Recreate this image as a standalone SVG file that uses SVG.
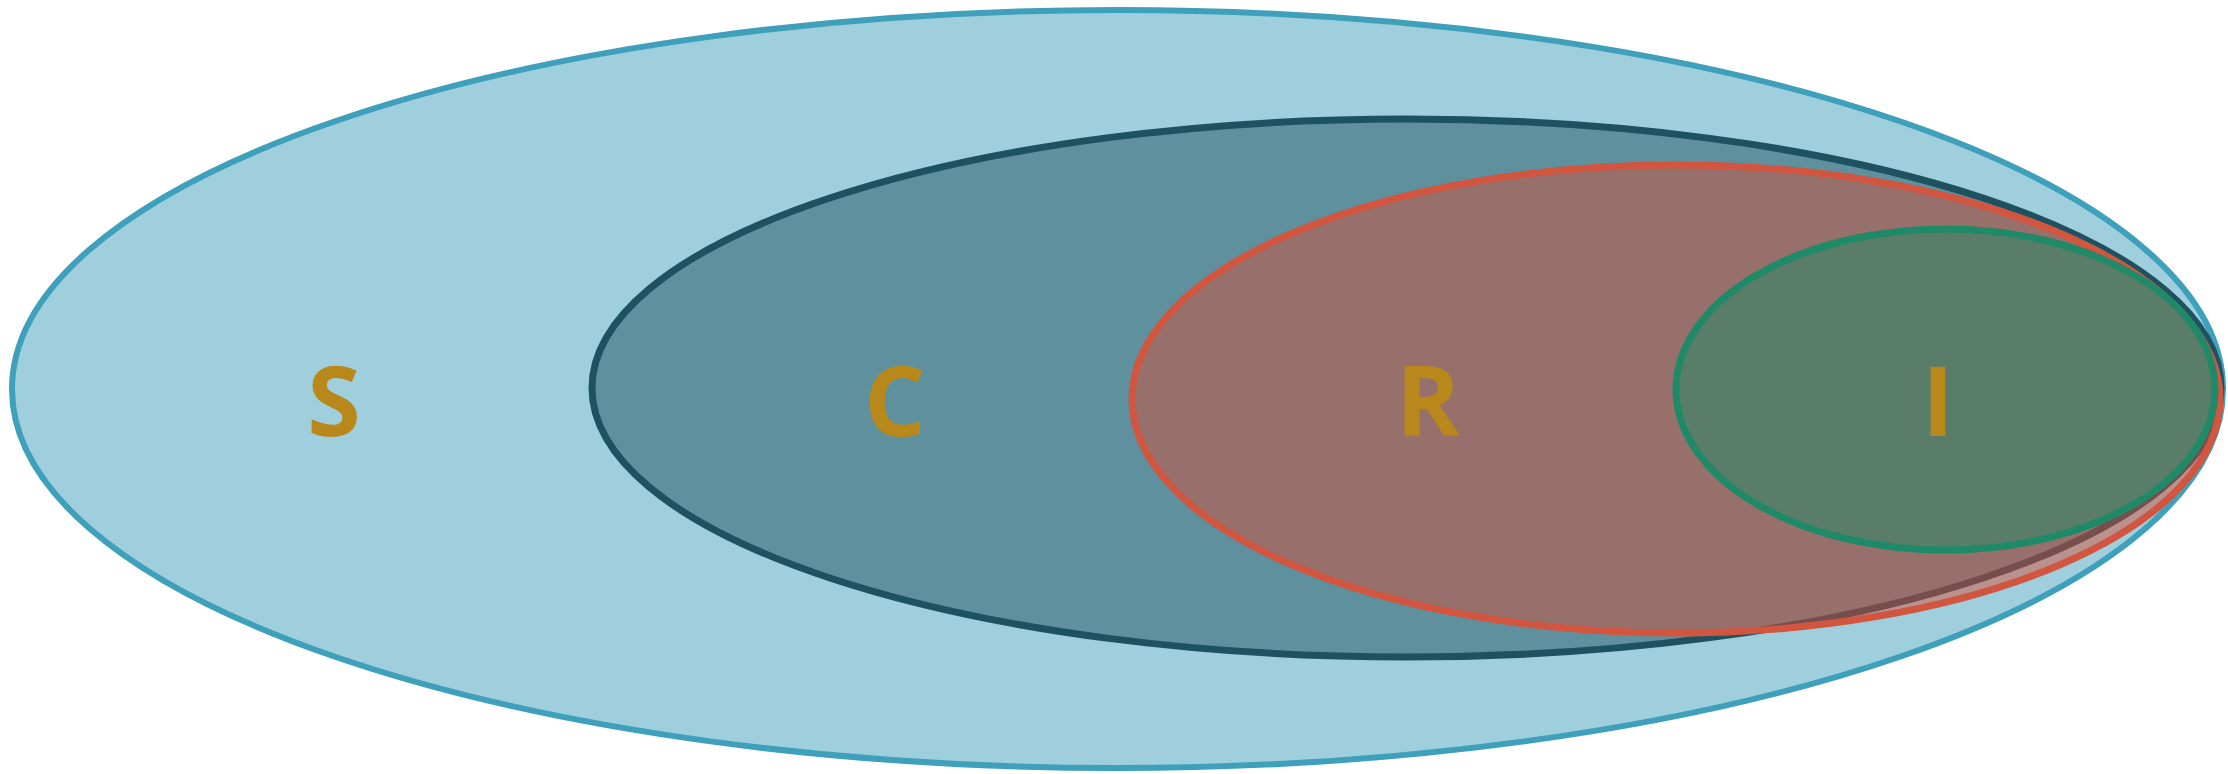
<svg xmlns="http://www.w3.org/2000/svg" width="2228" height="774" viewBox="0 0 2228 774">
  <style>
    .lbl { font-family: "Open Sans", "Liberation Sans", sans-serif; font-weight: 700; font-size: 97px; fill: #b8891a; text-anchor: middle; }
    #S ellipse { fill: #3fa0bb; fill-opacity: 0.5; stroke: #3fa0bb; stroke-width: 6; }
    #C ellipse { fill: #1f5260; fill-opacity: 0.5; stroke: #1f5260; stroke-width: 7; }
    #R ellipse { fill: #d54e36; fill-opacity: 0.48; stroke: #d2553f; stroke-width: 7; }
    #I ellipse { fill: #1e8a68; fill-opacity: 0.5; stroke: #1e8a68; stroke-width: 7; }
  </style>
  <rect width="2228" height="774" fill="#ffffff"/>
  <g id="S">
    <ellipse cx="1117.5" cy="389" rx="1105.5" ry="379"/>
  </g>
  <g id="C">
    <ellipse cx="1406.5" cy="388" rx="814.5" ry="269"/>
  </g>
  <g id="R">
    <ellipse cx="1676" cy="399" rx="544" ry="234"/>
  </g>
  <g id="I">
    <ellipse cx="1945.5" cy="389.5" rx="269.5" ry="160.5"/>
  </g>
  <g id="labels">
    <text class="lbl" x="334" y="436">S</text>
    <text class="lbl" x="895" y="436">C</text>
    <text class="lbl" x="1428" y="436">R</text>
    <text class="lbl" x="1938" y="436">I</text>
  </g>
  <g id="connectors"></g>
</svg>
